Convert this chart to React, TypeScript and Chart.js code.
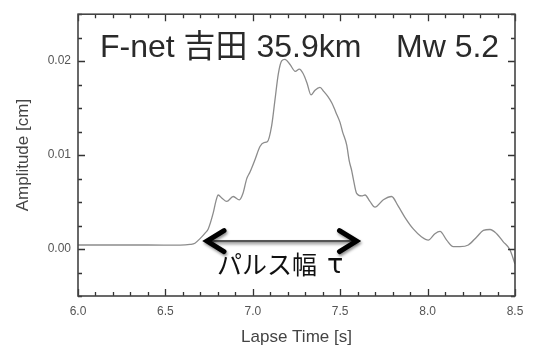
import React, { useEffect, useRef } from "react";
import { Chart, registerables } from "chart.js";

Chart.register(...registerables);

// Lapse time [s]
const times = [
  6.0, 6.4, 6.584, 6.641, 6.669, 6.698, 6.727, 6.745, 6.774, 6.789,
  6.802, 6.824, 6.851, 6.888, 6.923, 6.944, 6.965, 6.984, 7.013, 7.041,
  7.064, 7.083, 7.108, 7.127, 7.146, 7.165, 7.184, 7.213, 7.243, 7.266,
  7.287, 7.31, 7.333, 7.356, 7.384, 7.407, 7.429, 7.453, 7.476, 7.499,
  7.514, 7.537, 7.552, 7.566, 7.575, 7.594, 7.623, 7.642, 7.67, 7.699,
  7.747, 7.794, 7.832, 7.871, 7.918, 7.966, 8.004, 8.042, 8.071, 8.109,
  8.147, 8.185, 8.233, 8.281, 8.319, 8.357, 8.395, 8.433, 8.471, 8.5,
];

// Amplitude [cm]
const amplitudes = [
  0.00043, 0.00043, 0.00041, 0.00049, 0.00062, 0.00111, 0.0017, 0.00214, 0.00387, 0.0051,
  0.00575, 0.00541, 0.00507, 0.00559, 0.00524, 0.00593, 0.00747, 0.0082, 0.00954, 0.01091,
  0.01134, 0.01142, 0.01314, 0.0159, 0.01864, 0.02002, 0.02019, 0.01964, 0.01892, 0.01915,
  0.01871, 0.01768, 0.01641, 0.01691, 0.0172, 0.01675, 0.01624, 0.01552, 0.01452, 0.01348,
  0.01245, 0.01108, 0.00936, 0.00833, 0.00747, 0.00593, 0.00565, 0.00575, 0.00507, 0.00446,
  0.00524, 0.00559, 0.00456, 0.00335, 0.00214, 0.00129, 0.00095, 0.00163, 0.00188, 0.00095,
  0.00026, 0.00026, 0.00043, 0.00129, 0.00198, 0.00208, 0.00163, 0.00077, -0.00008, -0.0016,
];

const xTickLabels = [6.0, 6.5, 7.0, 7.5, 8.0, 8.5];
const yTickLabels = [0.0, 0.01, 0.02];
const xRange = [6.0, 8.5];
const yRange = [-0.005, 0.025];
const xMinorStep = 0.1;
const yMinorStep = 0.0025;

const titleLeft = "F-net 吉田 35.9km";
const titleRight = "Mw 5.2";
const pulseLabel = "パルス幅";
const pulseSymbol = "τ";
const pulseRange = [6.7265, 7.6047];
const pulseLevel = 0.00085;

const LATIN = '"Liberation Sans", Arial, Helvetica, sans-serif';
const MIXED = '"Liberation Sans", "Noto Sans CJK JP", sans-serif';

const framePlugin = {
  id: "frameAndAnnotations",
  afterDatasetsDraw(chart: any) {
    const { ctx, chartArea } = chart;
    const xs = chart.scales.x;
    const ys = chart.scales.y;
    const { left, right, top, bottom } = chartArea;
    ctx.save();

    // inward ticks on all four sides
    ctx.strokeStyle = "#333";
    ctx.lineWidth = 1.3;
    const near = (v: number, s: number) => Math.abs(v / s - Math.round(v / s)) < 1e-6;
    for (let i = 0; ; i++) {
      const v = xRange[0] + i * xMinorStep;
      if (v > xRange[1] + 1e-9) break;
      const px = Math.round(xs.getPixelForValue(v)) + 0.5;
      const len = near(v, 0.5) ? 7 : 4;
      ctx.beginPath();
      ctx.moveTo(px, bottom);
      ctx.lineTo(px, bottom - len);
      ctx.moveTo(px, top);
      ctx.lineTo(px, top + len);
      ctx.stroke();
    }
    for (let i = 0; ; i++) {
      const v = yRange[0] + i * yMinorStep;
      if (v > yRange[1] + 1e-9) break;
      const py = Math.round(ys.getPixelForValue(v)) + 0.5;
      const len = near(v, 0.01) ? 7 : 4;
      ctx.beginPath();
      ctx.moveTo(left, py);
      ctx.lineTo(left + len, py);
      ctx.moveTo(right, py);
      ctx.lineTo(right - len, py);
      ctx.stroke();
    }

    // frame
    ctx.strokeStyle = "#444";
    ctx.lineWidth = 1.6;
    ctx.strokeRect(left, top, right - left, bottom - top);

    // title texts
    ctx.fillStyle = "#2a2a2a";
    ctx.font = `32px ${MIXED}`;
    ctx.textBaseline = "alphabetic";
    ctx.textAlign = "left";
    ctx.fillText(titleLeft, left + 22, top + 43);
    ctx.fillText(titleRight, left + 318, top + 43);

    // pulse width arrow
    const x1 = xs.getPixelForValue(pulseRange[0]);
    const x2 = xs.getPixelForValue(pulseRange[1]);
    const ya = ys.getPixelForValue(pulseLevel);
    ctx.shadowColor = "rgba(0,0,0,0.45)";
    ctx.shadowBlur = 3;
    ctx.shadowOffsetX = 1;
    ctx.shadowOffsetY = 2;
    ctx.strokeStyle = "#555";
    ctx.lineWidth = 2.2;
    ctx.beginPath();
    ctx.moveTo(x1 + 3, ya);
    ctx.lineTo(x2 - 3, ya);
    ctx.stroke();
    ctx.strokeStyle = "#000";
    ctx.lineWidth = 5;
    ctx.lineJoin = "miter";
    ctx.lineCap = "round";
    ctx.beginPath();
    ctx.moveTo(x1 + 19, ya - 10.5);
    ctx.lineTo(x1 + 2, ya);
    ctx.lineTo(x1 + 19, ya + 10.5);
    ctx.moveTo(x2 - 19, ya - 10.5);
    ctx.lineTo(x2 - 2, ya);
    ctx.lineTo(x2 - 19, ya + 10.5);
    ctx.stroke();
    ctx.shadowColor = "transparent";
    ctx.shadowBlur = 0;
    ctx.shadowOffsetX = 0;
    ctx.shadowOffsetY = 0;

    ctx.fillStyle = "#111";
    ctx.font = `25px "Noto Sans CJK JP", sans-serif`;
    ctx.textBaseline = "middle";
    ctx.textAlign = "left";
    ctx.fillText(pulseLabel, x1 + 12, ya + 23);
    ctx.font = `27px "DejaVu Sans", sans-serif`;
    ctx.fillText(pulseSymbol, x1 + 122, ya + 25);

    ctx.restore();
  },
};

export default function App() {
  const ref = useRef<HTMLCanvasElement | null>(null);

  useEffect(() => {
    document.body.style.margin = "0";
    const canvas = ref.current;
    if (!canvas) return;
    const chart = new Chart(canvas, {
      type: "line",
      data: {
        datasets: [
          {
            data: times.map((t, i) => ({ x: t, y: amplitudes[i] })),
            borderColor: "#8c8c8c",
            borderWidth: 1.3,
            pointRadius: 0,
            cubicInterpolationMode: "monotone",
            fill: false,
          },
        ],
      },
      options: {
        animation: false,
        responsive: false,
        devicePixelRatio: 1,
        layout: { padding: { top: 5, right: 21, left: 0, bottom: 0 } },
        plugins: {
          legend: { display: false },
          tooltip: { enabled: false },
        },
        scales: {
          x: {
            type: "linear",
            min: xRange[0],
            max: xRange[1],
            afterBuildTicks: (s: any) => {
              s.ticks = xTickLabels.map((v) => ({ value: v }));
            },
            afterFit: (s: any) => {
              s.height = 53;
            },
            grid: { display: false, drawTicks: false },
            border: { display: false },
            ticks: {
              color: "#555",
              padding: 8,
              maxRotation: 0,
              font: { size: 12, family: LATIN },
              callback: (v: any) => Number(v).toFixed(1),
            },
            title: {
              display: true,
              text: "Lapse Time [s]",
              color: "#444",
              font: { size: 17, family: LATIN },
              padding: { top: 0, bottom: 1 },
            },
          },
          y: {
            type: "linear",
            min: yRange[0],
            max: yRange[1],
            afterBuildTicks: (s: any) => {
              s.ticks = yTickLabels.map((v) => ({ value: v }));
            },
            afterFit: (s: any) => {
              s.width = 78;
            },
            grid: { display: false, drawTicks: false },
            border: { display: false },
            ticks: {
              color: "#555",
              padding: 7,
              font: { size: 12, family: LATIN },
              callback: (v: any) => Number(v).toFixed(2),
            },
            title: {
              display: true,
              text: "Amplitude [cm]",
              color: "#444",
              font: { size: 17, family: LATIN },
              padding: { top: 13, bottom: 0 },
            },
          },
        },
      },
      plugins: [framePlugin],
    } as any);
    return () => chart.destroy();
  }, []);

  return (
    <div style={{ position: "absolute", left: 0, top: 0, width: 536, height: 349, background: "#fff" }}>
      <canvas ref={ref} width={536} height={349} style={{ display: "block" }} />
    </div>
  );
}
